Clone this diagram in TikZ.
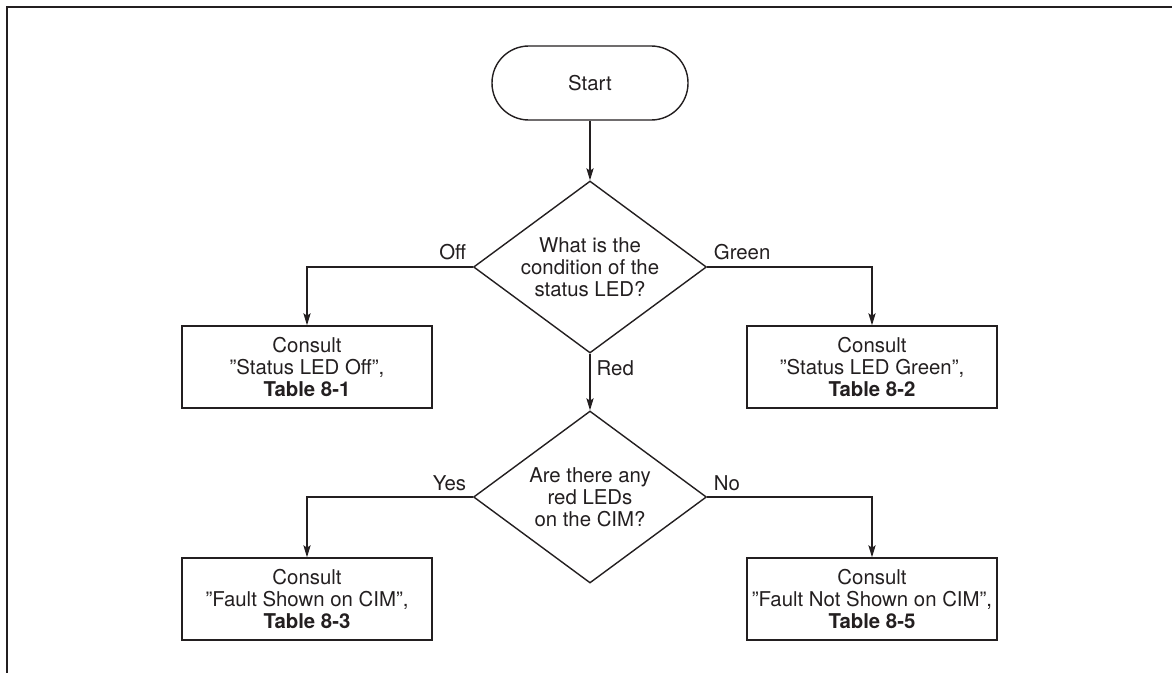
\documentclass[tikz,border=0pt]{standalone}
\usepackage{fontspec}
\setmainfont{TeX Gyre Heros}
\usetikzlibrary{shapes.geometric,arrows.meta}
\definecolor{ink}{HTML}{231F20}
\tikzset{
  every node/.append style={font=\fontsize{14.5pt}{15.8pt}\selectfont,text=ink},
  term/.style={draw=ink,line width=1pt,rounded corners=0.92cm,minimum width=4.9cm,minimum height=1.85cm},
  ask/.style={diamond,draw=ink,line width=1pt,aspect=1.355,inner sep=0pt,minimum width=5.825cm,minimum height=4.3cm,align=center},
  act/.style={draw=ink,line width=1pt,minimum width=6.25cm,minimum height=2.05cm,align=center},
  flow/.style={-{Stealth[length=3mm,width=1.8mm,inset=0.6mm]},ink,line width=1pt},
  lbl/.style={inner sep=0.15cm},
}
\begin{document}
\begin{tikzpicture}
\useasboundingbox (0,0) rectangle (29.3,-16.825);
\draw[ink,line width=1.4pt] (29.3,-0.175) -- (0.175,-0.175) -- (0.175,-16.825);
\node[term] (start) at (14.75,-2.075) {Start};
\node[ask] (d1) at (14.75,-6.675) {What is the\\condition of the\\status LED?};
\node[act] (l1) at (7.675,-9.175) {Consult\\”Status LED Off”,\\\textbf{Table 8-1}};
\node[act] (r1) at (21.8,-9.175) {Consult\\”Status LED Green”,\\\textbf{Table 8-2}};
\node[ask] (d2) at (14.75,-12.425) {Are there any\\red LEDs\\on the CIM?};
\node[act] (l2) at (7.675,-14.975) {Consult\\”Fault Shown on CIM”,\\\textbf{Table 8-3}};
\node[act] (r2) at (21.8,-14.975) {Consult\\”Fault Not Shown on CIM”,\\\textbf{Table 8-5}};
\draw[flow] (start) -- (d1);
\draw[flow] (d1.west) -| node[lbl,pos=0,above left]{Off} (l1.north);
\draw[flow] (d1.east) -| node[lbl,pos=0,above right]{Green} (r1.north);
\draw[flow] (d1.south) -- node[lbl,pos=0,below right]{Red} (d2.north);
\draw[flow] (d2.west) -| node[lbl,pos=0,above left]{Yes} (l2.north);
\draw[flow] (d2.east) -| node[lbl,pos=0,above right]{No} (r2.north);
\end{tikzpicture}
\end{document}
